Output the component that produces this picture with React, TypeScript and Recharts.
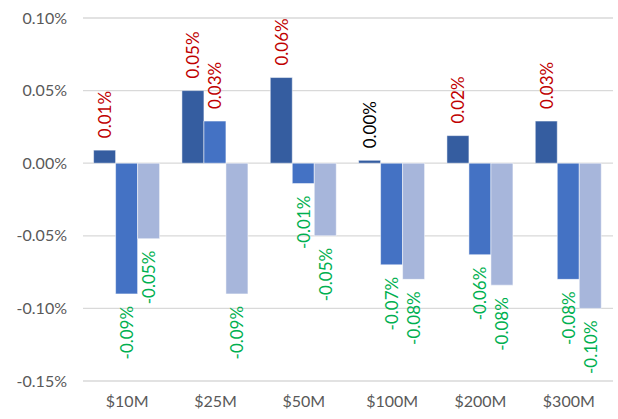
import { Bar, BarChart, CartesianGrid, LabelList, XAxis, YAxis } from "recharts";

const CATEGORIES = ["$10M", "$25M", "$50M", "$100M", "$200M", "$300M"];
const SERIES_A = [0.009, 0.05, 0.059, 0.002, 0.019, 0.029];
const SERIES_B = [-0.09, 0.029, -0.014, -0.07, -0.063, -0.08];
const SERIES_C = [-0.052, -0.09, -0.05, -0.08, -0.084, -0.1];
const Y_TICKS = [-0.15, -0.1, -0.05, 0, 0.05, 0.1];

const FONT = "Lato, 'Liberation Sans', sans-serif";

const chartData = CATEGORIES.map((name, i) => ({
  name,
  a: SERIES_A[i],
  b: SERIES_B[i],
  c: SERIES_C[i],
}));

const pct = (v: number) => `${v.toFixed(2)}%`;

function ValueLabel(props: any) {
  const x = Number(props.x);
  const y = Number(props.y);
  const w = Number(props.width);
  const h = Number(props.height);
  const value = Number(props.value);
  const text = pct(value);
  const cx = x + w / 2;
  const top = Math.min(y, y + h);
  const bottom = Math.max(y, y + h);
  const neg = text.startsWith("-");
  const color = text === "0.00%" ? "#000000" : neg ? "#00B050" : "#C00000";
  // positive labels sit above the bar, negative ones below; both read bottom-to-top
  const ay = neg ? bottom + 12 : top - 12;
  return (
    <text
      x={cx}
      y={ay}
      transform={`rotate(-90, ${cx}, ${ay})`}
      textAnchor={neg ? "end" : "start"}
      dominantBaseline="central"
      fill={color}
      fontSize={17}
      fontFamily={FONT}
    >
      {text}
    </text>
  );
}

export default function App() {
  return (
    <div style={{ width: 618, height: 419, background: "#fff" }}>
      <style>{"body{margin:0}"}</style>
      <BarChart
        width={618}
        height={419}
        data={chartData}
        margin={{ top: 18, right: 5, left: 0, bottom: 0 }}
        barCategoryGap="12%"
        barGap={0}
      >
        <CartesianGrid vertical={false} stroke="#D9D9D9" strokeWidth={1.3} />
        <XAxis
          dataKey="name"
          axisLine={false}
          tickLine={false}
          height={38}
          tickMargin={9}
          tick={{ fill: "#595959", fontSize: 16, fontFamily: FONT }}
        />
        <YAxis
          domain={[-0.15, 0.1]}
          ticks={Y_TICKS}
          tickFormatter={(v: number) => pct(v)}
          axisLine={false}
          tickLine={false}
          width={83}
          tickMargin={10}
          tick={{ fill: "#595959", fontSize: 16, fontFamily: FONT }}
        />
        <Bar dataKey="a" fill="#355DA0" stroke="#ffffff" strokeOpacity={0.5} isAnimationActive={false}>
          <LabelList dataKey="a" content={ValueLabel} />
        </Bar>
        <Bar dataKey="b" fill="#4472C4" stroke="#ffffff" strokeOpacity={0.5} isAnimationActive={false}>
          <LabelList dataKey="b" content={ValueLabel} />
        </Bar>
        <Bar dataKey="c" fill="#A7B6DB" stroke="#ffffff" strokeOpacity={0.5} isAnimationActive={false}>
          <LabelList dataKey="c" content={ValueLabel} />
        </Bar>
      </BarChart>
    </div>
  );
}
